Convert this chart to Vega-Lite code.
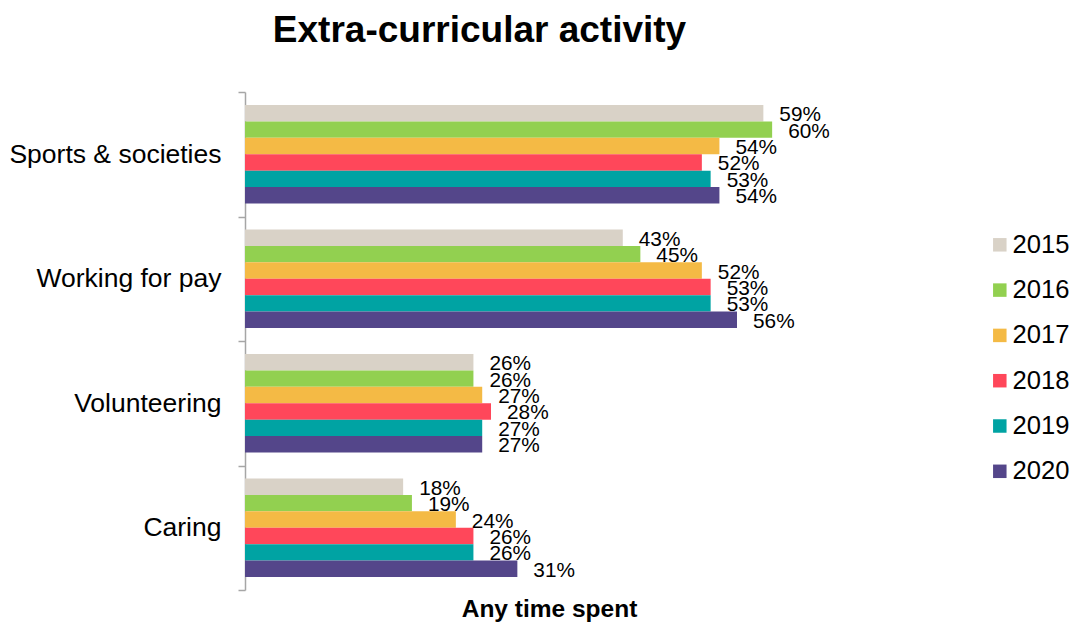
{
  "$schema": "https://vega.github.io/schema/vega-lite/v6.json",
  "autosize": {"type": "none"},
  "width": 615,
  "height": 498,
  "padding": {"left": 245, "top": 92, "right": 214, "bottom": 33},
  "title": {
    "text": "Extra-curricular activity",
    "font": "Liberation Sans",
    "fontSize": 37,
    "fontWeight": "bold",
    "color": "#000000",
    "anchor": "middle",
    "frame": "group",
    "offset": 29,
    "dx": -73
  },
  "config": {
    "view": {"stroke": null},
    "font": "Liberation Sans"
  },
  "data": {
    "values": [
      {"activity": "Sports & societies", "year": "2015", "share": 0.59},
      {"activity": "Sports & societies", "year": "2016", "share": 0.60},
      {"activity": "Sports & societies", "year": "2017", "share": 0.54},
      {"activity": "Sports & societies", "year": "2018", "share": 0.52},
      {"activity": "Sports & societies", "year": "2019", "share": 0.53},
      {"activity": "Sports & societies", "year": "2020", "share": 0.54},
      {"activity": "Working for pay", "year": "2015", "share": 0.43},
      {"activity": "Working for pay", "year": "2016", "share": 0.45},
      {"activity": "Working for pay", "year": "2017", "share": 0.52},
      {"activity": "Working for pay", "year": "2018", "share": 0.53},
      {"activity": "Working for pay", "year": "2019", "share": 0.53},
      {"activity": "Working for pay", "year": "2020", "share": 0.56},
      {"activity": "Volunteering", "year": "2015", "share": 0.26},
      {"activity": "Volunteering", "year": "2016", "share": 0.26},
      {"activity": "Volunteering", "year": "2017", "share": 0.27},
      {"activity": "Volunteering", "year": "2018", "share": 0.28},
      {"activity": "Volunteering", "year": "2019", "share": 0.27},
      {"activity": "Volunteering", "year": "2020", "share": 0.27},
      {"activity": "Caring", "year": "2015", "share": 0.18},
      {"activity": "Caring", "year": "2016", "share": 0.19},
      {"activity": "Caring", "year": "2017", "share": 0.24},
      {"activity": "Caring", "year": "2018", "share": 0.26},
      {"activity": "Caring", "year": "2019", "share": 0.26},
      {"activity": "Caring", "year": "2020", "share": 0.31}
    ]
  },
  "encoding": {
    "y": {
      "field": "activity",
      "type": "nominal",
      "sort": ["Sports & societies", "Working for pay", "Volunteering", "Caring"],
      "scale": {"paddingInner": 0, "paddingOuter": 0},
      "axis": {
        "title": null,
        "labelFontSize": 26.5,
        "labelColor": "#000000",
        "labelPadding": 17,
        "labelLimit": 0,
        "tickSize": 7,
        "tickWidth": 1.5,
        "tickColor": "#A6A6A6",
        "tickBand": "extent",
        "domainColor": "#A6A6A6",
        "domainWidth": 1.5,
        "grid": false
      }
    },
    "yOffset": {
      "field": "year",
      "type": "nominal",
      "sort": "ascending",
      "scale": {"paddingInner": 0, "paddingOuter": 0.8}
    },
    "x": {
      "field": "share",
      "type": "quantitative",
      "scale": {"domain": [0, 0.7], "nice": false, "zero": true},
      "axis": {
        "title": "Any time spent",
        "titleFontSize": 24.5,
        "titleFontWeight": "bold",
        "titleColor": "#000000",
        "titlePadding": 7,
        "titleX": 304,
        "labels": false,
        "ticks": false,
        "domain": false,
        "grid": false
      }
    }
  },
  "layer": [
    {
      "mark": {"type": "bar"},
      "encoding": {
        "color": {
          "field": "year",
          "type": "nominal",
          "scale": {
            "domain": ["2015", "2016", "2017", "2018", "2019", "2020"],
            "range": ["#D9D2C7", "#92D050", "#F4BA45", "#FF475A", "#00A3A3", "#54468A"]
          },
          "legend": {
            "title": null,
            "orient": "none",
            "legendX": 742,
            "legendY": 140,
            "padding": 0,
            "symbolType": "square",
            "symbolSize": 182,
            "symbolStrokeWidth": 0,
            "labelFontSize": 25.6,
            "labelColor": "#000000",
            "labelOffset": 0,
            "rowPadding": 18.3
          }
        }
      }
    },
    {
      "mark": {
        "type": "text",
        "align": "left",
        "baseline": "middle",
        "dx": 16,
        "dy": 2,
        "fontSize": 20.8,
        "color": "#000000"
      },
      "encoding": {
        "text": {"field": "share", "type": "quantitative", "format": ".0%"}
      }
    }
  ]
}
